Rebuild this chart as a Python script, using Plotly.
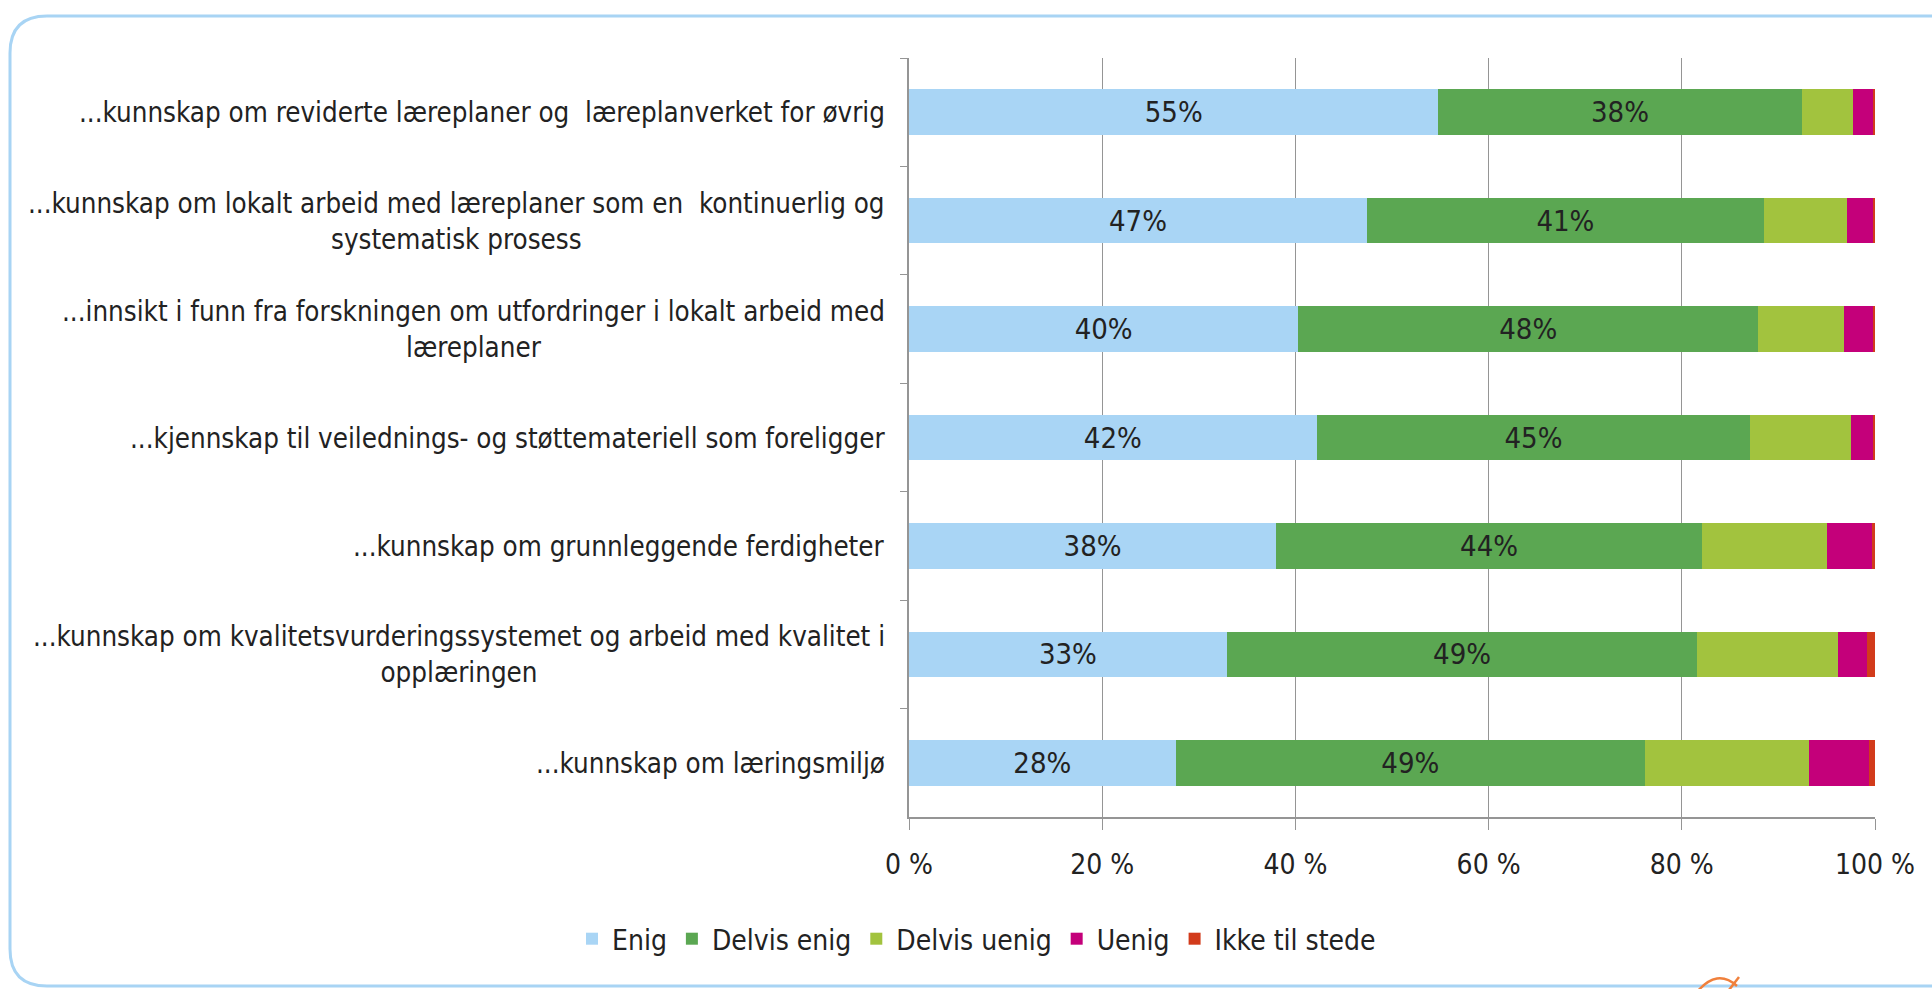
import plotly.graph_objects as go

categories = [
    "...kunnskap om reviderte læreplaner og  læreplanverket for øvrig",
    "...kunnskap om lokalt arbeid med læreplaner som en  kontinuerlig og<br>systematisk prosess",
    "...innsikt i funn fra forskningen om utfordringer i lokalt arbeid med<br>læreplaner",
    "...kjennskap til veilednings- og støttemateriell som foreligger",
    "...kunnskap om grunnleggende ferdigheter",
    "...kunnskap om kvalitetsvurderingssystemet og arbeid med kvalitet i<br>opplæringen",
    "...kunnskap om læringsmiljø",
]
cat_ids = ["c1", "c2", "c3", "c4", "c5", "c6", "c7"]

enig = [54.8, 47.4, 40.3, 42.2, 38.0, 32.9, 27.6]
delvis_enig = [37.6, 41.1, 47.6, 44.9, 44.1, 48.7, 48.6]
delvis_uenig = [5.3, 8.6, 8.9, 10.4, 12.9, 14.6, 17.0]
uenig = [2.1, 2.7, 3.0, 2.3, 4.7, 3.0, 6.2]
ikke = [0.2, 0.2, 0.2, 0.2, 0.3, 0.8, 0.6]

series_names = ["Enig", "Delvis enig", "Delvis uenig", "Uenig", "Ikke til stede"]
series_values = [enig, delvis_enig, delvis_uenig, uenig, ikke]
series_colors = ["#A9D5F5", "#5BA752", "#A2C33E", "#C4007A", "#D23B1B"]
labelled = [True, True, False, False, False]

x_ticks = [0, 20, 40, 60, 80, 100]
x_ticktext = ["0 %", "20 %", "40 %", "60 %", "80 %", "100 %"]

FONT = "DejaVu Sans Condensed, DejaVu Sans, sans-serif"
TXT = "#222222"
W, H = 1932, 989
L, R, T, B = 909, 1875, 58, 817


def px2x(px):
    return (px - L) / (R - L)


def py2y(py):
    return (B - py) / (B - T)


fig = go.Figure()
for name, vals, col, lab in zip(series_names, series_values, series_colors, labelled):
    fig.add_trace(go.Bar(
        y=cat_ids, x=vals, name=name, orientation="h",
        marker=dict(color=col, line=dict(width=0)),
        texttemplate="%{x:.0f}%" if lab else None,
        textposition="inside" if lab else "none",
        insidetextanchor="middle",
        textangle=0,
        textfont=dict(family=FONT, size=29, color=TXT),
        hoverinfo="x+name",
    ))

annotations = []
for cid, lbl in zip(cat_ids, categories):
    annotations.append(dict(
        x=px2x(887), xref="paper", y=cid, yref="y",
        text=lbl, showarrow=False, xanchor="right", yanchor="middle",
        align="center", font=dict(family=FONT, size=27.5, color=TXT),
    ))

# rounded frame
lx, rx_, ty, by = px2x(10), px2x(1990), py2y(16), py2y(986)
cx, cy = 37 / (R - L), 37 / (B - T)
frame = (f"M {rx_},{ty} L {lx + cx},{ty} Q {lx},{ty} {lx},{ty - cy} "
         f"L {lx},{by + cy} Q {lx},{by} {lx + cx},{by} L {rx_},{by}")
logo = (f"M {px2x(1697)},{py2y(992)} Q {px2x(1717)},{py2y(968)} {px2x(1737)},{py2y(986)}")
logo2 = f"M {px2x(1739)},{py2y(977)} L {px2x(1729)},{py2y(990)}"

fig.update_layout(
    width=W, height=H,
    margin=dict(l=L, r=W - R, t=T, b=H - B, autoexpand=False),
    barmode="stack", bargap=0.58,
    paper_bgcolor="white", plot_bgcolor="white",
    font=dict(family=FONT, size=28, color=TXT),
    showlegend=True,
    legend=dict(orientation="h", x=px2x(572), xanchor="left", y=py2y(939), yanchor="middle",
                font=dict(family=FONT, size=28, color=TXT), itemwidth=30,
                traceorder="normal", bgcolor="rgba(0,0,0,0)"),
    xaxis=dict(range=[0, 100], tickvals=x_ticks, ticktext=x_ticktext,
               showgrid=True, gridcolor="#959595", gridwidth=1,
               showline=True, linecolor="#959595", linewidth=2,
               ticks="outside", ticklen=11, tickcolor="#959595", tickwidth=1,
               ticklabelstandoff=10,
               tickfont=dict(family=FONT, size=28, color=TXT), zeroline=False,
               fixedrange=True),
    yaxis=dict(categoryorder="array", categoryarray=cat_ids, autorange="reversed",
               showticklabels=False, showgrid=False, showline=True,
               linecolor="#959595", linewidth=2, ticks="outside", ticklen=7,
               tickson="boundaries", tickcolor="#959595", tickwidth=1, zeroline=False,
               fixedrange=True),
    annotations=annotations,
    shapes=[
        dict(type="path", xref="paper", yref="paper", path=frame,
             line=dict(color="#A8D4F4", width=3)),
        dict(type="path", xref="paper", yref="paper", path=logo,
             line=dict(color="#F0803C", width=2.5)),
        dict(type="path", xref="paper", yref="paper", path=logo2,
             line=dict(color="#F0803C", width=2.5)),
    ],
)

fig.write_html("out.html", config={"displayModeBar": False},
               post_script="document.body.style.margin='0px';document.body.style.overflow='hidden';")
